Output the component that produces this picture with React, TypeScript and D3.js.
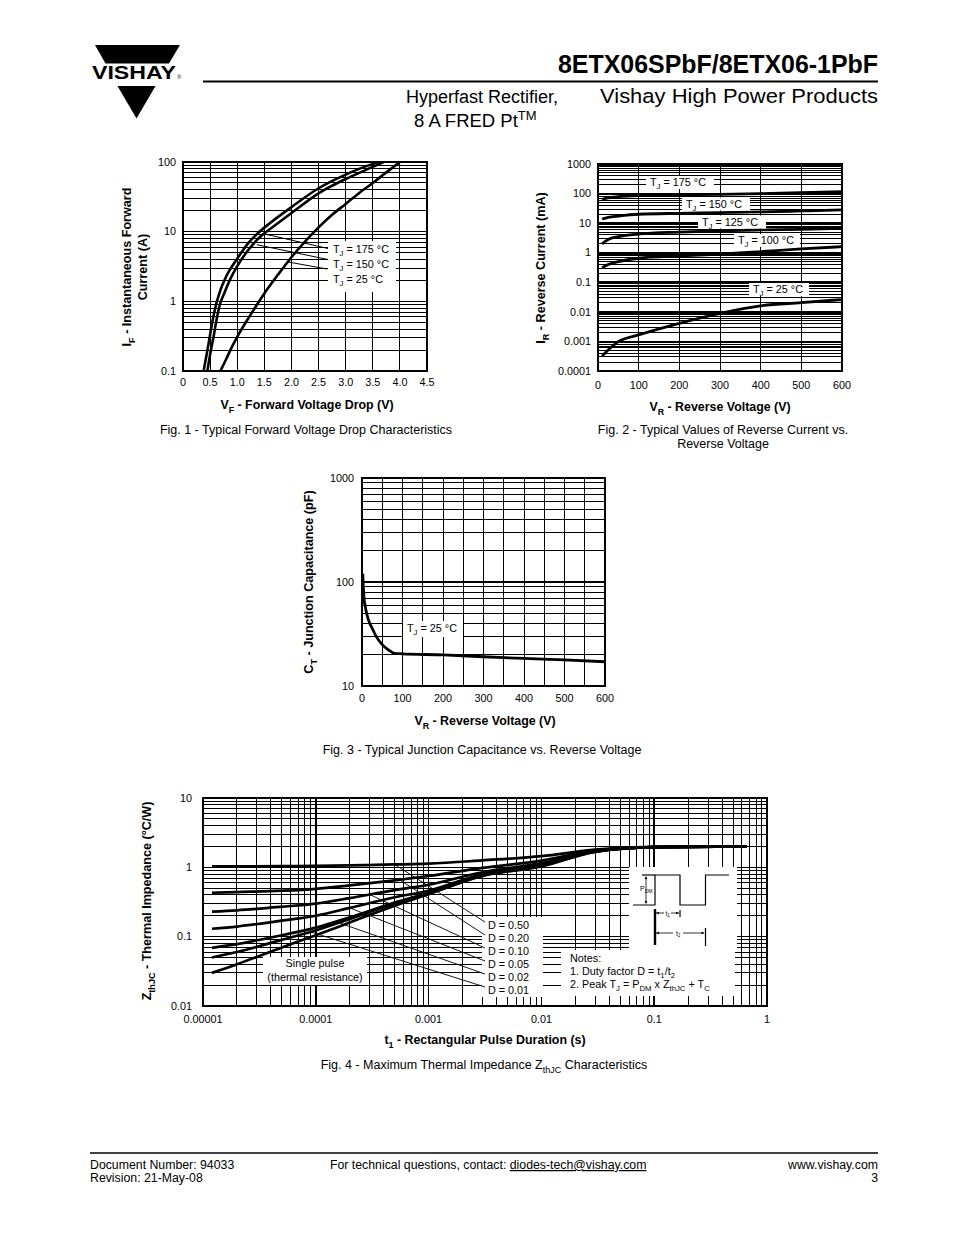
import React from 'react';
import * as d3 from 'd3';

const FONT = "'Liberation Sans', Arial, Helvetica, sans-serif";

// ===== Figure 1 : forward voltage drop =====
const fig1XTicks = [0, 0.5, 1, 1.5, 2, 2.5, 3, 3.5, 4, 4.5];
const fig1XLabels = ['0', '0.5', '1.0', '1.5', '2.0', '2.5', '3.0', '3.5', '4.0', '4.5'];
const fig1YTicks = [0.1, 1, 10, 100];
const fig1YLabels = ['0.1', '1', '10', '100'];
const vf175 = [0.38, 0.44, 0.49, 0.54, 0.61, 0.69, 0.8, 1.0, 1.2, 1.4, 1.6, 2.0, 2.5, 3.0, 3.5, 3.62];
const if175 = [0.1, 0.18, 0.3, 0.5, 0.9, 1.45, 2.3, 4.1, 6.8, 9.8, 13.2, 22.5, 42, 66, 94, 100];
const vf150 = [0.45, 0.51, 0.56, 0.61, 0.68, 0.76, 0.86, 1.0, 1.2, 1.45, 1.6, 2.0, 2.5, 3.0, 3.5, 3.7];
const if150 = [0.1, 0.19, 0.3, 0.5, 0.9, 1.3, 2.0, 3.2, 5.4, 8.8, 10.8, 18.5, 35.5, 57, 85, 100];
const vf25 = [0.69, 0.8, 0.9, 1.0, 1.25, 1.5, 1.75, 2.0, 2.25, 2.5, 2.75, 3.0, 3.25, 3.5, 3.75, 4.0];
const if25 = [0.1, 0.15, 0.22, 0.31, 0.65, 1.3, 2.4, 4.3, 7.2, 11.5, 17.5, 25, 36, 50, 71, 100];
const fig1Legend = ['175', '150', '25'];
const fig1LeaderV = [1.47, 1.36, 1.94];
const fig1LeaderI = [9.4, 6.5, 3.67];

// ===== Figure 2 : reverse current =====
const fig2XTicks = [0, 100, 200, 300, 400, 500, 600];
const fig2YTicks = [0.0001, 0.001, 0.01, 0.1, 1, 10, 100, 1000];
const fig2YLabels = ['0.0001', '0.001', '0.01', '0.1', '1', '10', '100', '1000'];
const fig2VR = [10, 25, 50, 100, 200, 300, 400, 500, 600];
const ir175 = [64, 72, 79, 86, 90, 94, 100, 107, 116];
const ir150 = [13.8, 15.8, 17.4, 20, 21.5, 22.6, 24, 25.8, 28];
const ir125 = [2.0, 2.8, 3.5, 4.3, 5.0, 5.5, 5.9, 6.2, 6.7];
const ir100 = [0.31, 0.4, 0.5, 0.65, 0.78, 0.89, 1.09, 1.34, 1.6];
const ir25 = [0.00032, 0.00051, 0.00098, 0.00166, 0.0041, 0.0089, 0.016, 0.0205, 0.026];
const fig2Labels = ['175', '150', '125', '100', '25'];

// ===== Figure 3 : junction capacitance =====
const fig3XTicks = [0, 100, 200, 300, 400, 500, 600];
const fig3XGrid = [0, 50, 100, 150, 200, 250, 300, 350, 400, 450, 500, 550, 600];
const fig3YTicks = [10, 100, 1000];
const fig3VR = [2, 3, 5, 8, 12, 18, 25, 35, 50, 65, 80, 100, 200, 300, 400, 500, 600];
const fig3C = [120, 95, 70, 58, 49, 41, 36, 30, 25, 22.3, 20.6, 20.4, 19.9, 19.1, 18.4, 17.8, 17.1];

// ===== Figure 4 : thermal impedance =====
const fig4XTicks = [0.00001, 0.0001, 0.001, 0.01, 0.1, 1];
const fig4XLabels = ['0.00001', '0.0001', '0.001', '0.01', '0.1', '1'];
const fig4YTicks = [0.01, 0.1, 1, 10];
const fig4YLabels = ['0.01', '0.1', '1', '10'];
const fig4T = [1.2e-5, 2e-5, 5e-5, 1e-4, 2e-4, 5e-4, 1e-3, 3e-3, 1e-2, 3e-2, 0.1, 0.66];
const zD50 = [1.03, 1.03, 1.04, 1.05, 1.07, 1.1, 1.13, 1.26, 1.45, 1.8, 1.97, 2.0];
const zD20 = [0.43, 0.44, 0.46, 0.49, 0.55, 0.65, 0.75, 0.98, 1.25, 1.75, 1.96, 2.0];
const zD10 = [0.23, 0.24, 0.27, 0.3, 0.36, 0.47, 0.56, 0.85, 1.15, 1.72, 1.95, 2.0];
const zD05 = [0.13, 0.14, 0.17, 0.2, 0.26, 0.37, 0.46, 0.8, 1.1, 1.7, 1.95, 2.0];
const zD02 = [0.069, 0.078, 0.105, 0.135, 0.19, 0.31, 0.43, 0.77, 1.07, 1.69, 1.95, 2.0];
const zD01 = [0.05, 0.06, 0.09, 0.123, 0.18, 0.3, 0.42, 0.76, 1.05, 1.68, 1.95, 2.0];
const zSingle = [0.03, 0.04, 0.07, 0.105, 0.16, 0.28, 0.41, 0.75, 1.03, 1.67, 1.95, 2.0];
const fig4DLabels = ['0.50', '0.20', '0.10', '0.05', '0.02', '0.01'];
const fig4LeaderT = [5e-4, 5.5e-4, 3e-4, 2e-4, 1.5e-4, 9e-5];

// ---------- helpers ----------
function logGrid(lo: number, hi: number): number[] {
  const out: number[] = [];
  const e0 = Math.round(Math.log10(lo));
  const e1 = Math.round(Math.log10(hi));
  for (let e = e0; e < e1; e++) for (let k = 1; k < 10; k++) out.push(k * Math.pow(10, e));
  out.push(hi);
  return out;
}
const isDecade = (v: number) => Math.abs(Math.log10(v) - Math.round(Math.log10(v))) < 1e-9;

function interpLog(xs: number[], ys: number[], x: number, logX: boolean): number {
  const fx = (v: number) => (logX ? Math.log10(v) : v);
  for (let i = 0; i < xs.length - 1; i++) {
    if (x >= xs[i] && x <= xs[i + 1]) {
      const f = (fx(x) - fx(xs[i])) / (fx(xs[i + 1]) - fx(xs[i]));
      return Math.pow(10, Math.log10(ys[i]) + f * (Math.log10(ys[i + 1]) - Math.log10(ys[i])));
    }
  }
  return ys[ys.length - 1];
}

type Part = [string, number?];
function Rich({ parts, fs }: { parts: Part[]; fs: number }) {
  let cur = 0;
  return (
    <>
      {parts.map(([s, shift], i) => {
        const target = shift ? shift * fs : 0;
        const dy = target - cur;
        cur = target;
        return (
          <tspan key={i} dy={dy} fontSize={shift ? fs * 0.72 : fs}>
            {s}
          </tspan>
        );
      })}
    </>
  );
}

function Grid(props: {
  L: number; R: number; T: number; B: number;
  xv: number[]; yv: number[];
  xs: (v: number) => number; ys: (v: number) => number;
  logX?: boolean; logY?: boolean;
}) {
  const { L, R, T, B, xv, yv, xs, ys, logX, logY } = props;
  return (
    <g stroke="#000" shapeRendering="crispEdges">
      {xv.map((v, i) => (
        <line key={'gx' + i} x1={xs(v)} x2={xs(v)} y1={T} y2={B} strokeWidth={logX && isDecade(v) ? 1.6 : 1} />
      ))}
      {yv.map((v, i) => (
        <line key={'gy' + i} x1={L} x2={R} y1={ys(v)} y2={ys(v)} strokeWidth={logY && isDecade(v) ? 1.6 : 1} />
      ))}
    </g>
  );
}

function Border({ L, R, T, B }: { L: number; R: number; T: number; B: number }) {
  return <rect x={L} y={T} width={R - L} height={B - T} fill="none" stroke="#000" strokeWidth={2} />;
}

const TJ = (v: string): Part[] => [['T'], ['J', 0.3], [' = ' + v + ' °C']];

const TICK = 10.8;
const LEG = 10.8;
const XT = 12.4;
const YT = 12.6;
const CAP = 12.5;

// ---------- Header ----------
function Header() {
  return (
    <g>
      <polygon points="95,45 180,45 169,63.5 105.5,63.5" fill="#000" />
      <polygon points="117.5,86 155.5,86 136.5,118.5" fill="#000" />
      <text x={92} y={79} fontSize={18} fontWeight="bold" textLength={84} lengthAdjust="spacingAndGlyphs">VISHAY</text>
      <text x={177} y={79} fontSize={6}>®</text>
      <text x={878} y={73} fontSize={25} fontWeight="bold" textAnchor="end" textLength={320} lengthAdjust="spacingAndGlyphs">8ETX06SPbF/8ETX06-1PbF</text>
      <line x1={203} x2={878} y1={81.5} y2={81.5} stroke="#000" strokeWidth={2} />
      <text x={878} y={103} fontSize={20.5} textAnchor="end" textLength={278} lengthAdjust="spacingAndGlyphs">Vishay High Power Products</text>
      <text x={558} y={103} fontSize={18} textAnchor="end">Hyperfast Rectifier,</text>
      <text x={414} y={127} fontSize={18.5}>
        8 A FRED Pt<tspan dy={-7.5} fontSize={13}>TM</tspan>
      </text>
    </g>
  );
}

// ---------- Fig 1 ----------
function Fig1() {
  const L = 183, R = 427, T = 162, B = 371;
  const x = d3.scaleLinear().domain([0, 4.5]).range([L, R]);
  const y = d3.scaleLog().domain([0.1, 100]).range([B, T]);
  const line = d3.line<[number, number]>().x((d) => x(d[0])).y((d) => y(d[1])).curve(d3.curveMonotoneX);
  const series: [number[], number[]][] = [[vf175, if175], [vf150, if150], [vf25, if25]];
  const legendY = [253, 268, 283];
  const leaderStart: [number, number][] = [[328, 248.5], [328, 259.5], [327, 269]];
  return (
    <g>
      <defs>
        <clipPath id="clip1"><rect x={L} y={T} width={R - L} height={B - T} /></clipPath>
      </defs>
      <Grid L={L} R={R} T={T} B={B} xv={fig1XTicks} yv={logGrid(0.1, 100)} xs={x} ys={y} logY />
      <rect x={328} y={241} width={68} height={51} fill="#fff" />
      <g stroke="#000" strokeWidth={1}>
        {fig1Legend.map((_, i) => (
          <line key={i} x1={leaderStart[i][0]} y1={leaderStart[i][1]} x2={x(fig1LeaderV[i])} y2={y(fig1LeaderI[i])} />
        ))}
      </g>
      <g clipPath="url(#clip1)" fill="none" stroke="#000" strokeWidth={2.6}>
        {series.map(([vx, vy], i) => (
          <path key={i} d={line(vx.map((v, j) => [v, vy[j]] as [number, number])) || ''} />
        ))}
      </g>
      {fig1Legend.map((v, i) => (
        <text key={i} x={333} y={legendY[i]} fontSize={LEG}>
          <Rich parts={TJ(v)} fs={LEG} />
        </text>
      ))}
      <Border L={L} R={R} T={T} B={B} />
      {fig1XTicks.map((v, i) => (
        <text key={i} x={x(v)} y={386} fontSize={TICK} textAnchor="middle">{fig1XLabels[i]}</text>
      ))}
      {fig1YTicks.map((v, i) => (
        <text key={i} x={176} y={y(v) + 3.7} fontSize={TICK} textAnchor="end">{fig1YLabels[i]}</text>
      ))}
      <text x={307} y={409} fontSize={XT} fontWeight="bold" textAnchor="middle">
        <Rich parts={[['V'], ['F', 0.3], [' - Forward Voltage Drop (V)']]} fs={XT} />
      </text>
      <text transform="translate(131,267) rotate(-90)" fontSize={YT} fontWeight="bold" textAnchor="middle">
        <Rich parts={[['I'], ['F', 0.3], [' - Instantaneous Forward']]} fs={YT} />
      </text>
      <text transform="translate(147,267) rotate(-90)" fontSize={YT} fontWeight="bold" textAnchor="middle">Current (A)</text>
      <text x={306} y={434} fontSize={CAP} textAnchor="middle">Fig. 1 - Typical Forward Voltage Drop Characteristics</text>
    </g>
  );
}

// ---------- Fig 2 ----------
function Fig2() {
  const L = 598, R = 842, T = 164, B = 371;
  const x = d3.scaleLinear().domain([0, 600]).range([L, R]);
  const y = d3.scaleLog().domain([0.0001, 1000]).range([B, T]);
  const line = d3.line<[number, number]>().x((d) => x(d[0])).y((d) => y(d[1])).curve(d3.curveMonotoneX);
  const series = [ir175, ir150, ir125, ir100, ir25];
  const boxes = [
    [646, 176, 68, 13],
    [682, 197.5, 68, 13],
    [698, 215.5, 68, 13],
    [734, 234, 66, 13],
    [749, 283, 60, 13],
  ];
  return (
    <g>
      <defs>
        <clipPath id="clip2"><rect x={L} y={T} width={R - L} height={B - T} /></clipPath>
      </defs>
      <Grid L={L} R={R} T={T} B={B} xv={fig2XTicks} yv={logGrid(0.0001, 1000)} xs={x} ys={y} logY />
      <g clipPath="url(#clip2)" fill="none" stroke="#000" strokeWidth={2.8}>
        {series.map((s, i) => (
          <path key={i} d={line(fig2VR.map((v, j) => [v, s[j]] as [number, number])) || ''} />
        ))}
      </g>
      {fig2Labels.map((v, i) => (
        <g key={i}>
          <rect x={boxes[i][0]} y={boxes[i][1]} width={boxes[i][2]} height={boxes[i][3]} fill="#fff" />
          <text x={boxes[i][0] + 4} y={boxes[i][1] + 10} fontSize={LEG}>
            <Rich parts={TJ(v)} fs={LEG} />
          </text>
        </g>
      ))}
      <Border L={L} R={R} T={T} B={B} />
      {fig2XTicks.map((v, i) => (
        <text key={i} x={x(v)} y={389} fontSize={TICK} textAnchor="middle">{String(v)}</text>
      ))}
      {fig2YTicks.map((v, i) => (
        <text key={i} x={591} y={y(v) + 3.7} fontSize={TICK} textAnchor="end">{fig2YLabels[i]}</text>
      ))}
      <text x={720} y={411} fontSize={XT} fontWeight="bold" textAnchor="middle">
        <Rich parts={[['V'], ['R', 0.3], [' - Reverse Voltage (V)']]} fs={XT} />
      </text>
      <text transform="translate(545,268) rotate(-90)" fontSize={YT} fontWeight="bold" textAnchor="middle">
        <Rich parts={[['I'], ['R', 0.3], [' - Reverse Current (mA)']]} fs={YT} />
      </text>
      <text x={723} y={434} fontSize={CAP} textAnchor="middle">Fig. 2 - Typical Values of Reverse Current vs.</text>
      <text x={723} y={448} fontSize={CAP} textAnchor="middle">Reverse Voltage</text>
    </g>
  );
}

// ---------- Fig 3 ----------
function Fig3() {
  const L = 362, R = 605, T = 478, B = 686;
  const x = d3.scaleLinear().domain([0, 600]).range([L, R]);
  const y = d3.scaleLog().domain([10, 1000]).range([B, T]);
  const line = d3.line<[number, number]>().x((d) => x(d[0])).y((d) => y(d[1])).curve(d3.curveMonotoneX);
  return (
    <g>
      <defs>
        <clipPath id="clip3"><rect x={L} y={T} width={R - L} height={B - T} /></clipPath>
      </defs>
      <Grid L={L} R={R} T={T} B={B} xv={fig3XGrid} yv={logGrid(10, 1000)} xs={x} ys={y} logY />
      <rect x={403} y={621} width={60} height={16} fill="#fff" />
      <g clipPath="url(#clip3)" fill="none" stroke="#000" strokeWidth={2.8}>
        <path d={line(fig3VR.map((v, j) => [v, fig3C[j]] as [number, number])) || ''} />
      </g>
      <text x={407} y={632} fontSize={LEG}>
        <Rich parts={TJ('25')} fs={LEG} />
      </text>
      <Border L={L} R={R} T={T} B={B} />
      {fig3XTicks.map((v, i) => (
        <text key={i} x={x(v)} y={702} fontSize={TICK} textAnchor="middle">{String(v)}</text>
      ))}
      {fig3YTicks.map((v, i) => (
        <text key={i} x={354} y={y(v) + 3.7} fontSize={TICK} textAnchor="end">{String(v)}</text>
      ))}
      <text x={485} y={725} fontSize={XT} fontWeight="bold" textAnchor="middle">
        <Rich parts={[['V'], ['R', 0.3], [' - Reverse Voltage (V)']]} fs={XT} />
      </text>
      <text transform="translate(313,582) rotate(-90)" fontSize={YT} fontWeight="bold" textAnchor="middle">
        <Rich parts={[['C'], ['T', 0.3], [' - Junction Capacitance (pF)']]} fs={YT} />
      </text>
      <text x={482} y={754} fontSize={CAP} textAnchor="middle">Fig. 3 - Typical Junction Capacitance vs. Reverse Voltage</text>
    </g>
  );
}

// ---------- Fig 4 ----------
function Arrow({ x, y, dir }: { x: number; y: number; dir: 'l' | 'r' | 'u' | 'd' }) {
  const s = 3, w = 1.3;
  const pts =
    dir === 'l' ? `${x},${y} ${x + s},${y - w} ${x + s},${y + w}` :
    dir === 'r' ? `${x},${y} ${x - s},${y - w} ${x - s},${y + w}` :
    dir === 'u' ? `${x},${y} ${x - w},${y + s} ${x + w},${y + s}` :
    `${x},${y} ${x - w},${y - s} ${x + w},${y - s}`;
  return <polygon points={pts} fill="#000" />;
}

function Fig4() {
  const L = 203, R = 767, T = 798, B = 1006;
  const x = d3.scaleLog().domain([0.00001, 1]).range([L, R]);
  const y = d3.scaleLog().domain([0.01, 10]).range([B, T]);
  const line = d3.line<[number, number]>().x((d) => x(d[0])).y((d) => y(d[1])).curve(d3.curveMonotoneX);
  const series = [zD50, zD20, zD10, zD05, zD02, zD01, zSingle];
  const labelCy = [925, 938, 951, 964, 977, 990];
  return (
    <g>
      <defs>
        <clipPath id="clip4"><rect x={L} y={T} width={R - L} height={B - T} /></clipPath>
      </defs>
      <Grid L={L} R={R} T={T} B={B} xv={logGrid(0.00001, 1)} yv={logGrid(0.01, 10)} xs={x} ys={y} logX logY />
      {/* white boxes */}
      <rect x={263} y={957} width={104} height={28} fill="#fff" />
      <rect x={482} y={917} width={61} height={80} fill="#fff" />
      <rect x={561} y={950} width={174} height={46} fill="#fff" />
      <rect x={629} y={867} width={108} height={84} fill="#fff" />
      {/* leader lines */}
      <g stroke="#000" strokeWidth={0.9}>
        {fig4DLabels.map((_, i) => {
          const t = fig4LeaderT[i];
          const z = interpLog(fig4T, series[i], t, true);
          return <line key={i} x1={485} y1={labelCy[i] - 3} x2={x(t)} y2={y(z)} />;
        })}
      </g>
      <g clipPath="url(#clip4)" fill="none" stroke="#000" strokeWidth={2.7}>
        {series.map((s, i) => (
          <path key={i} d={line(fig4T.map((t, j) => [t, s[j]] as [number, number])) || ''} />
        ))}
      </g>
      {fig4DLabels.map((v, i) => (
        <text key={i} x={488} y={labelCy[i] + 3.8} fontSize={LEG}>D = {v}</text>
      ))}
      <text x={315} y={967} fontSize={LEG} textAnchor="middle">Single pulse</text>
      <text x={315} y={981} fontSize={LEG} textAnchor="middle">(thermal resistance)</text>
      {/* notes */}
      <text x={570} y={962} fontSize={LEG}>Notes:</text>
      <text x={570} y={975} fontSize={LEG}>
        <Rich parts={[['1. Duty factor D = t'], ['1', 0.3], ['/t'], ['2', 0.3]]} fs={LEG} />
      </text>
      <text x={570} y={988} fontSize={LEG}>
        <Rich parts={[['2. Peak T'], ['J', 0.3], [' = P'], ['DM', 0.3], [' x Z'], ['thJC', 0.3], [' + T'], ['C', 0.3]]} fs={LEG} />
      </text>
      {/* waveform inset */}
      <g fill="none" stroke="#000" strokeWidth={1.2}>
        <polyline points="633,905 655,905 655,875 680,875 680,905 705.5,905 705.5,875 729,875" />
        <line x1={642} y1={875} x2={655} y2={875} />
        <line x1={646} y1={877} x2={646} y2={903} strokeWidth={0.8} />
        <line x1={655} y1={909} x2={655} y2={945} strokeWidth={2.4} />
        <line x1={680} y1={910} x2={680} y2={917} />
        <line x1={705.5} y1={928} x2={705.5} y2={946} />
        <line x1={656} y1={913} x2={664} y2={913} strokeWidth={0.8} />
        <line x1={671} y1={913} x2={679} y2={913} strokeWidth={0.8} />
        <line x1={656} y1={933} x2={673} y2={933} strokeWidth={0.8} />
        <line x1={683} y1={933} x2={704} y2={933} strokeWidth={0.8} />
      </g>
      <Arrow x={646} y={876} dir="u" />
      <Arrow x={646} y={904} dir="d" />
      <Arrow x={656} y={913} dir="l" />
      <Arrow x={679} y={913} dir="r" />
      <Arrow x={656} y={933} dir="l" />
      <Arrow x={704.5} y={933} dir="r" />
      <text x={640} y={891} fontSize={7}>
        <Rich parts={[['P'], ['DM', 0.3]]} fs={7} />
      </text>
      <text x={665.5} y={915.5} fontSize={6.5}>
        <Rich parts={[['t'], ['1', 0.3]]} fs={6.5} />
      </text>
      <text x={676} y={935.5} fontSize={6.5}>
        <Rich parts={[['t'], ['2', 0.3]]} fs={6.5} />
      </text>
      <Border L={L} R={R} T={T} B={B} />
      {fig4XTicks.map((v, i) => (
        <text key={i} x={x(v)} y={1023} fontSize={TICK} textAnchor="middle">{fig4XLabels[i]}</text>
      ))}
      {fig4YTicks.map((v, i) => (
        <text key={i} x={192} y={y(v) + 3.7} fontSize={TICK} textAnchor="end">{fig4YLabels[i]}</text>
      ))}
      <text x={485} y={1044} fontSize={XT} fontWeight="bold" textAnchor="middle">
        <Rich parts={[['t'], ['1', 0.3], [' - Rectangular Pulse Duration (s)']]} fs={XT} />
      </text>
      <text transform="translate(151,901) rotate(-90)" fontSize={YT} fontWeight="bold" textAnchor="middle">
        <Rich parts={[['Z'], ['thJC', 0.3], [' - Thermal Impedance (°C/W)']]} fs={YT} />
      </text>
      <text x={484} y={1069} fontSize={CAP} textAnchor="middle">
        <Rich parts={[['Fig. 4 - Maximum Thermal Impedance Z'], ['thJC', 0.3], [' Characteristics']]} fs={CAP} />
      </text>
    </g>
  );
}

// ---------- Footer ----------
function Footer() {
  return (
    <g fontSize={12.3}>
      <line x1={90} x2={878} y1={1153} y2={1153} stroke="#000" strokeWidth={1.5} />
      <text x={90} y={1169}>Document Number: 94033</text>
      <text x={90} y={1182}>Revision: 21-May-08</text>
      <text x={330} y={1169}>
        For technical questions, contact: <tspan style={{ textDecoration: 'underline' }}>diodes-tech@vishay.com</tspan>
      </text>
      <text x={878} y={1169} textAnchor="end">www.vishay.com</text>
      <text x={878} y={1182} textAnchor="end">3</text>
    </g>
  );
}

export default function App() {
  return (
    <svg
      width={954}
      height={1235}
      viewBox="0 0 954 1235"
      style={{ position: 'absolute', left: 0, top: 0, background: '#fff' }}
      fontFamily={FONT}
    >
      <rect width={954} height={1235} fill="#fff" />
      <Header />
      <Fig1 />
      <Fig2 />
      <Fig3 />
      <Fig4 />
      <Footer />
    </svg>
  );
}
